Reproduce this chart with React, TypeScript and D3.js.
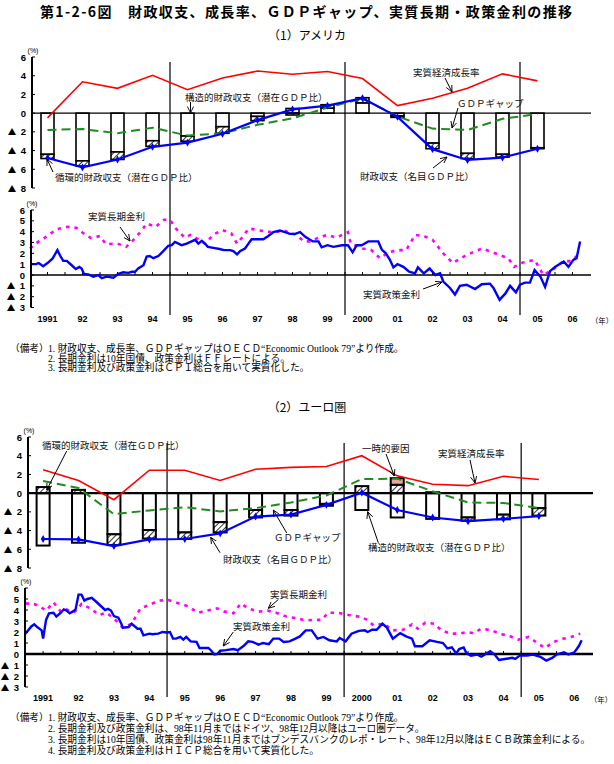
import * as d3 from 'd3'

// annual series (OECD Economic Outlook 79)
const years = [1991, 1992, 1993, 1994, 1995, 1996, 1997, 1998, 1999, 2000, 2001, 2002, 2003, 2004, 2005]
const yearLabels = ['1991', '92', '93', '94', '95', '96', '97', '98', '99', '2000', '01', '02', '03', '04', '05', '06']

const usGrowth = [-0.5, 3.35, 2.65, 4.05, 2.5, 3.75, 4.5, 4.15, 4.45, 3.7, 0.8, 1.6, 2.65, 4.2, 3.45]
const usGap = [-1.8, -1.7, -2.15, -1.55, -2.4, -2.15, -1.25, -0.55, 0.6, 1.55, -0.35, -1.65, -1.8, -0.6, -0.1]
const usBalance = [-4.8, -5.8, -4.95, -3.6, -3.15, -2.2, -0.75, 0.4, 0.8, 1.6, -0.4, -3.85, -5.0, -4.75, -3.8]
const usStructural = [-4.4, -5.1, -4.15, -2.95, -2.45, -1.45, -0.35, 0.5, 0.55, 1.1, -0.3, -3.2, -4.3, -4.4, -3.7]
const usCyclical = [-0.45, -0.55, -0.8, -0.6, -0.55, -0.7, -0.45, -0.2, 0.35, 0.55, -0.15, -0.6, -0.55, -0.3, -0.1]
const usOneOff = [0, 0, 0, 0, 0, 0, 0, 0, 0, 0, 0, 0, 0, 0, 0]

const euGrowth = [2.5, 1.35, -0.7, 2.45, 2.45, 1.35, 2.55, 2.75, 2.85, 4.0, 1.85, 0.95, 0.8, 1.8, 1.45]
const euGap = [1.3, 0.55, -2.25, -1.85, -1.5, -1.95, -1.6, -1.0, -0.25, 1.5, 1.55, 0.2, -1.0, -1.05, -1.6]
const euBalance = [-4.9, -4.95, -5.65, -4.95, -4.9, -4.3, -2.5, -2.3, -1.25, 0.05, -1.8, -2.6, -3.0, -2.75, -2.45]
const euStructural = [-5.6, -5.3, -4.4, -3.95, -4.2, -3.1, -1.8, -1.8, -1.15, -1.8, -2.6, -2.75, -2.6, -2.3, -1.6]
const euCyclical = [0.65, 0.35, -1.15, -0.9, -0.7, -1.1, -0.8, -0.6, -0.2, 0.75, 0.9, 0.1, -0.35, -0.5, -0.8]
const euOneOff = [0, 0, 0, 0, 0, 0, 0, 0, 0, 0, 0.7, 0, 0, 0, 0]

// monthly series: [months since Jan 1991, %]
type Pt = [number, number]

const usPolicy: Pt[] = [
  [0, 1.0], [2, 1.0], [3, 1.1], [4.5, 0.8], [6, 1.1], [7.7, 1.5], [9.4, 2.3], [10.3, 1.8], [11.4, 1.3], [12.6, 1.3],
  [14.3, 0.9], [15.7, 0.55], [16.9, 0.75], [17.7, 0.6], [18.5, 0.1], [20, 0.05], [21.7, -0.15], [23.4, 0], [24.6, -0.3],
  [26.3, -0.15], [28.6, -0.25], [30.3, 0.1], [32, 0.25], [33.7, 0.2], [34.9, 0.3], [36, 0.3], [37.1, 0.6], [38.9, 0.9],
  [40, 1.7], [41, 1.75], [42.3, 1.55], [44, 1.75], [45.7, 2.2], [47.4, 2.7], [48.6, 2.75], [49.7, 3.05], [50.9, 2.9],
  [52, 2.75], [53.7, 2.9], [55.4, 3.1], [56.6, 3.25], [57.7, 2.9], [58.9, 3.15], [60, 2.9], [61, 2.6], [62.9, 2.5],
  [65, 2.4], [66.5, 2.3], [68.6, 2.3], [69.7, 2.2], [71, 1.9], [72, 2.2], [73.7, 2.45], [74.9, 2.9], [76, 3.3],
  [77.7, 3.3], [80, 3.3], [81.7, 3.6], [83.4, 3.95], [85.7, 4.1], [87.4, 3.95], [89.1, 3.8], [90.9, 3.8], [92.6, 3.95],
  [94.5, 3.5], [97, 3.1], [98.9, 3.1], [100, 2.55], [102, 2.75], [104, 2.6], [107, 2.75], [109, 2.75], [110.6, 2.1],
  [112, 2.75], [113.7, 2.75], [116, 3.1], [119.4, 3.1], [120.6, 2.35], [122, 2.0], [123.4, 1.4], [124.6, 0.7], [126, 1.0],
  [128, 0.75], [130, 0.3], [132, 0.15], [133, 0.7], [135, 0.15], [137, 0.6], [139, 0.0], [140.6, 0.15], [141.7, -0.6],
  [144, -1.2], [145.7, -1.8], [147.4, -1.0], [149.7, -0.9], [152.6, -1.3], [154.9, -0.85], [157.7, -0.8], [158.9, -1.2],
  [161, -2.3], [163, -1.7], [164.6, -1.0], [166.6, -1.6], [168, -0.9], [169.7, -0.7], [171.4, -0.7], [173, 0.45],
  [175, -0.15], [176.6, -1.1], [178.3, 0.35], [180, 0.75], [183, 1.25], [184.6, 0.75], [186.3, 1.4], [187.4, 1.55], [188.6, 3.1],
]

const usLong: Pt[] = [
  [0, 2.45], [3, 3.1], [6, 3.6], [9, 4.2], [11, 4.35], [13, 4.45], [16, 4.35], [19, 3.7], [21, 3.4], [24, 3.6], [26, 2.85],
  [30, 2.9], [33, 2.6], [35, 3.1], [38, 4.0], [40, 4.75], [43, 4.45], [46, 5.1], [48, 5.1], [50, 4.3], [53, 3.45], [55, 3.7],
  [57, 3.4], [60, 2.9], [63, 3.75], [66, 4.15], [69, 3.85], [71, 2.9], [73, 3.55], [75, 4.3], [78, 4.15], [81, 4.0],
  [83, 3.95], [85, 4.0], [87, 4.15], [89, 3.85], [91, 3.75], [94, 3.1], [96, 3.1], [99, 3.45], [102, 3.7], [105, 3.45],
  [109, 3.95], [110, 2.9], [114, 2.45], [117, 2.3], [120, 1.55], [123, 2.1], [126, 2.3], [129, 2.3], [132, 3.7], [135, 3.6],
  [138, 3.25], [142, 1.9], [145, 1.1], [148, 1.6], [151, 2.0], [155, 2.45], [158, 2.15], [161, 1.85], [164, 1.55],
  [166, 0.75], [169, 1.15], [173, 1.4], [176, 0.0], [179, 0.45], [183, 1.3], [186, 1.25], [188, 2.0],
]

const euPolicy: Pt[] = [
  [0, 1.85], [2, 2.5], [3, 2.7], [4, 2.45], [5.5, 2.15], [6, 1.4], [7, 3.1], [8, 3.7], [9.5, 3.75], [10.5, 3.4], [12, 3.75],
  [13, 4.05], [14, 3.95], [15, 3.7], [16, 3.85], [17, 4.05], [18, 5.4], [19, 5.4], [20, 4.85], [21, 5.0], [22.5, 5.1],
  [24, 4.75], [26, 4.25], [27, 4.0], [28, 4.1], [29, 3.95], [30, 3.45], [31.5, 3.3], [32.5, 2.75], [33, 2.4], [35, 2.45],
  [36, 2.75], [38, 2.3], [39, 2.3], [40, 1.7], [42, 1.85], [43, 1.8], [45, 1.85], [46.5, 2.0], [48, 1.95], [49, 2.0],
  [50, 1.4], [51, 1.4], [52.5, 1.55], [53.5, 1.3], [54.5, 1.55], [56, 1.15], [58, 1.1], [59, 0.55], [62, 0.55], [63, 0.3],
  [64, -0.05], [65, 0], [66, 0.3], [68, 0.35], [70.5, 0.45], [72, 0.35], [74, 0.75], [75.5, 1.15], [77, 1.1], [79, 0.85],
  [80.5, 1.0], [82.5, 0.9], [84, 1.4], [86, 1.4], [87.5, 1.1], [89.5, 1.15], [91.5, 1.4], [93, 1.6], [95, 2.15], [97, 2.15],
  [99, 1.4], [101, 1.55], [103, 1.25], [105.5, 1.15], [106.5, 1.45], [108.5, 1.15], [110.5, 1.85], [113, 2.1], [115, 2.15],
  [116, 2.0], [117.5, 2.2], [119, 2.2], [121, 2.75], [122.5, 2.4], [124.5, 1.4], [127, 1.9], [129, 1.6], [131, 1.4],
  [132, 0.7], [134.5, 0.7], [137, 1.25], [139.5, 1.1], [141.5, 1.0], [143, 0.5], [144.5, 0.6], [146, 0.05], [147, 0.45],
  [148.5, 0.6], [149.5, 0.05], [151, -0.15], [153, -0.05], [154.5, -0.25], [157.5, 0.25], [159, -0.05], [160.5, -0.55],
  [162.5, -0.45], [165, -0.35], [166, -0.45], [167.5, -0.15], [170, -0.15], [172, -0.05], [174.5, -0.25], [176.5, -0.6],
  [178.5, -0.35], [180, -0.05], [182.5, 0.15], [184, -0.05], [186, 0.15], [187.5, 0.7], [188.5, 1.25],
]

const euLong: Pt[] = [
  [0, 4.6], [3, 4.55], [5, 4.3], [7, 3.95], [9.5, 4.7], [12, 3.85], [14, 4.05], [16, 3.75], [17.5, 4.0], [19, 4.55],
  [22, 4.15], [25, 3.55], [27.5, 3.75], [30.5, 3.1], [33, 2.4], [36, 2.75], [39, 4.15], [42, 4.45], [45, 4.85], [48.5, 4.9],
  [52, 4.6], [55, 4.35], [58.5, 3.75], [61.5, 3.95], [65, 4.15], [67.5, 3.85], [70.5, 3.7], [73, 4.6], [75.5, 4.15],
  [79, 3.85], [82, 3.95], [85, 3.75], [88.5, 3.4], [92, 3.25], [95, 3.05], [97.5, 3.1], [100.5, 3.1], [102.5, 3.75],
  [106, 3.75], [109.5, 3.55], [113, 3.4], [115.5, 3.15], [118, 2.6], [121.5, 2.75], [124.5, 2.15], [128, 2.2], [131, 2.7],
  [133, 2.3], [135.5, 2.85], [138.5, 2.75], [141, 2.15], [144, 1.85], [147, 1.85], [149.5, 2.0], [152, 1.9], [154.5, 2.3],
  [158, 2.15], [161, 1.8], [163.5, 1.7], [167, 1.3], [170.5, 1.55], [173.5, 1.0], [176, 0.55], [179, 1.1], [182.5, 1.4],
  [185, 1.55], [188, 1.85],
]

const upperTicks = [6, 4, 2, 0, -2, -4, -6, -8]
const lowerTicks = [6, 5, 4, 3, 2, 1, 0, -1, -2, -3]

const usNotes = [
  '1.  財政収支、成長率、ＧＤＰギャップはＯＥＣＤ“Economic Outlook 79”より作成。',
  '2.  長期金利は10年国債、政策金利はＦＦレートによる。',
  '3.  長期金利及び政策金利はＣＰＩ総合を用いて実質化した。',
]
const euNotes = [
  '1.  財政収支、成長率、ＧＤＰギャップはＯＥＣＤ“Economic Outlook 79”より作成。',
  '2.  長期金利及び政策金利は、98年11月まではドイツ、98年12月以降はユーロ圏データ。',
  '3.  長期金利は10年国債、政策金利は98年11月まではブンデスバンクのレポ・レート、98年12月以降はＥＣＢ政策金利による。',
  '4.  長期金利及び政策金利はＨＩＣＰ総合を用いて実質化した。',
]

const JP = '"Noto Sans CJK JP", sans-serif'
const NUM = 'Arial, "Liberation Sans", sans-serif'
const NOTE = '"Liberation Serif", "Noto Sans CJK JP", serif'

type Label = { text: string; x: number; y: number; a: [number, number, number, number] }

function Chart({ cfg, d }: any) {
  const x = d3.scaleLinear().domain([1991, 2007]).range(cfg.xRange)
  const xm = (m: number) => x(1991 + m / 12)
  const cx = (yr: number) => x(yr + 0.5)
  const yU = d3.scaleLinear().domain([-8, 6]).range(cfg.upperRange)
  const yL = d3.scaleLinear().domain([-3, 6]).range(cfg.lowerRange)
  const annual = d3.line<number>().x((_, i) => cx(years[i])).y((v) => yU(v))
  const monthly = d3.line<Pt>().x((p) => xm(p[0])).y((p) => yL(p[1]))
  const bw = 13
  const right = x(2007) + 1
  const diamond = d3.symbol(d3.symbolDiamond, 18)()

  const bars = years.map((yr, i) => {
    let pos = 0
    let neg = 0
    const parts = [
      { v: d.structural[i], fill: 'white' },
      { v: d.cyclical[i], fill: 'url(#hatch)' },
      { v: d.oneOff[i], fill: '#f4a29c' },
    ]
    return parts
      .filter((p) => p.v !== 0)
      .map((p) => {
        let a, b
        if (p.v > 0) { a = pos; b = pos + p.v; pos = b } else { a = neg; b = neg + p.v; neg = b }
        return { x: cx(yr) - bw / 2, y: yU(Math.max(a, b)), h: Math.abs(yU(a) - yU(b)), fill: p.fill }
      })
  })

  const yAxis = (scale: any, ticks: number[], ax: number, top: number, bottom: number) => (
    <g>
      <line x1={ax} x2={ax} y1={top} y2={bottom} stroke="black" strokeWidth={2} />
      {ticks.map((t) => (
        <g key={t}>
          <line x1={ax} x2={ax + 3} y1={scale(t)} y2={scale(t)} stroke="black" strokeWidth={1} />
          <text x={ax - 6} y={scale(t) + 3.5} textAnchor="end" fontFamily={NUM} fontWeight="bold" fontSize={9.5}>
            {Math.abs(t)}
          </text>
          {t < 0 && (
            <text x={ax - 20} y={scale(t) + 3.5} textAnchor="middle" fontFamily={JP} fontSize={8.5}>▲</text>
          )}
        </g>
      ))}
    </g>
  )

  return (
    <g>
      <text x={307} y={cfg.subY} textAnchor="middle" fontFamily={JP} fontSize={12}>{cfg.subtitle}</text>

      {/* separators */}
      {[1995, 2000, 2005].map((yr) => (
        <line key={yr} x1={x(yr)} x2={x(yr)} y1={cfg.sepTop} y2={cfg.sepBottom} stroke="black" strokeWidth={1.2} />
      ))}

      {/* upper chart */}
      {bars.map((segs, i) =>
        segs.map((s, j) => (
          <rect key={i + '-' + j} x={s.x} y={s.y} width={bw} height={s.h} fill={s.fill} stroke="black" strokeWidth={cfg.barStroke} />
        ))
      )}
      <line x1={cfg.upperAxisX} x2={right} y1={yU(0)} y2={yU(0)} stroke="black" strokeWidth={cfg.zeroUpper} />
      <path d={annual(d.growth) ?? ''} fill="none" stroke="#ff0000" strokeWidth={1.6} />
      <path d={annual(d.gap) ?? ''} fill="none" stroke="#1e8c1e" strokeWidth={2} strokeDasharray="9,5" />
      <path d={annual(d.balance) ?? ''} fill="none" stroke="#0000ff" strokeWidth={2.2} />
      {d.balance.map((v: number, i: number) => (
        <path key={i} d={diamond ?? ''} transform={`translate(${cx(years[i])},${yU(v)})`} fill="#0000ff" />
      ))}
      {yAxis(yU, upperTicks, cfg.upperAxisX, yU(6), yU(-8))}
      <text x={cfg.upperAxisX + 1} y={yU(6) - 4} textAnchor="middle" fontFamily={NUM} fontSize={7}>(%)</text>

      {/* lower chart */}
      <line x1={cfg.lowerAxisX} x2={right} y1={yL(0)} y2={yL(0)} stroke="black" strokeWidth={cfg.zeroLower} />
      {d3.range(6, 192, 6).map((m) => (
        <line key={m} x1={xm(m)} x2={xm(m)} y1={yL(0)} y2={yL(0) - 3} stroke="black" strokeWidth={1} />
      ))}
      <path d={monthly(d.long) ?? ''} fill="none" stroke="#ff00ff" strokeWidth={2.6} strokeDasharray="3.5,5" />
      <path d={monthly(d.policy) ?? ''} fill="none" stroke="#0000ff" strokeWidth={2.4} />
      {yAxis(yL, lowerTicks, cfg.lowerAxisX, yL(6), yL(-3))}
      <text x={cfg.lowerAxisX + 1} y={yL(6) - 4} textAnchor="middle" fontFamily={NUM} fontSize={7}>(%)</text>
      {yearLabels.map((lab, i) => (
        <text key={lab} x={cx(1991 + i)} y={cfg.yearY} textAnchor="middle" fontFamily={NUM} fontWeight="bold" fontSize={9}>
          {lab}
        </text>
      ))}
      <text x={cfg.nenX} y={cfg.yearY + 2} textAnchor="middle" fontFamily={JP} fontSize={7.5}>（年）</text>

      {/* annotations */}
      {cfg.labels.map((l: Label) => (
        <g key={l.text}>
          <text x={l.x} y={l.y} fontFamily={JP} fontSize={9.5} fill="#111">{l.text}</text>
          <line x1={l.a[0]} y1={l.a[1]} x2={l.a[2]} y2={l.a[3]} stroke="black" strokeWidth={1} markerEnd="url(#arrow)" />
        </g>
      ))}

      {/* notes */}
      <text x={10} y={cfg.noteY} fontFamily={NOTE} fontSize={9.7}>（備考）</text>
      {cfg.notes.map((n: string, i: number) => (
        <text key={i} x={48} y={cfg.noteY + i * cfg.noteGap} fontFamily={NOTE} fontSize={9.7}>{n}</text>
      ))}
    </g>
  )
}

const usCfg = {
  subtitle: '（1）アメリカ',
  subY: 40,
  xRange: [30, 590],
  upperRange: [188, 57],
  lowerRange: [307.5, 210],
  upperAxisX: 32,
  lowerAxisX: 31,
  sepTop: 62,
  sepBottom: 315,
  barStroke: 1.6,
  zeroUpper: 1.4,
  zeroLower: 1.4,
  yearY: 321.5,
  nenX: 602,
  noteY: 352,
  noteGap: 9.7,
  notes: usNotes,
  labels: [
    { text: '構造的財政収支（潜在ＧＤＰ比）', x: 185, y: 100.5, a: [190.5, 102, 190.5, 113] },
    { text: '循環的財政収支（潜在ＧＤＰ比）', x: 55, y: 180.5, a: [53, 172, 47, 159] },
    { text: '実質経済成長率', x: 413, y: 75.5, a: [445, 78, 452, 92] },
    { text: 'ＧＤＰギャップ', x: 457, y: 106.5, a: [458, 108, 452, 128] },
    { text: '財政収支（名目ＧＤＰ比）', x: 360, y: 179.5, a: [433, 168, 447, 157] },
    { text: '実質長期金利', x: 88, y: 219.5, a: [120, 227, 130, 241] },
    { text: '実質政策金利', x: 363, y: 297.5, a: [423, 289, 442, 282] },
  ],
}

const euCfg = {
  subtitle: '（2）ユーロ圏',
  subY: 412,
  xRange: [25.4, 592],
  upperRange: [568, 437],
  lowerRange: [687, 588],
  upperAxisX: 28,
  lowerAxisX: 25,
  sepTop: 443,
  sepBottom: 697,
  barStroke: 2,
  zeroUpper: 2.2,
  zeroLower: 2.6,
  yearY: 700.5,
  nenX: 601,
  noteY: 721,
  noteGap: 11,
  notes: euNotes,
  labels: [
    { text: '循環的財政収支（潜在ＧＤＰ比）', x: 42, y: 449, a: [66.7, 451, 46.7, 490] },
    { text: '一時的要因', x: 362, y: 451.5, a: [386, 454, 394.3, 476] },
    { text: '実質経済成長率', x: 438, y: 457, a: [470, 460, 475, 483] },
    { text: 'ＧＤＰギャップ', x: 274, y: 540.5, a: [286.7, 533, 273.3, 510] },
    { text: '財政収支（名目ＧＤＰ比）', x: 223, y: 562.5, a: [220, 552.7, 210.7, 537.3] },
    { text: '構造的財政収支（潜在ＧＤＰ比）', x: 368, y: 550.5, a: [378.3, 542.7, 367.7, 511.7] },
    { text: '実質長期金利', x: 270, y: 597.5, a: [278.3, 599.5, 268.3, 608.3] },
    { text: '実質政策金利', x: 233, y: 630, a: [233.3, 632, 223.3, 646] },
  ],
}

export default function App() {
  return (
    <svg width={614} height={764} style={{ position: 'absolute', left: 0, top: 0, background: 'white' }}>
      <defs>
        <pattern id="hatch" width={4} height={4} patternUnits="userSpaceOnUse" patternTransform="rotate(45)">
          <rect width={4} height={4} fill="white" />
          <line x1={0} y1={0} x2={0} y2={4} stroke="black" strokeWidth={1.6} />
        </pattern>
        <marker id="arrow" viewBox="0 0 8 8" refX={7.5} refY={4} markerWidth={7} markerHeight={7} orient="auto" markerUnits="userSpaceOnUse">
          <path d="M0,0.5 L7.5,4 L0,7.5" fill="none" stroke="black" strokeWidth={1} />
        </marker>
      </defs>
      <rect width={614} height={764} fill="white" />
      <text x={306} y={17} textAnchor="middle" fontFamily={JP} fontWeight="bold" fontSize={14} textLength={532} lengthAdjust="spacing">
        第1-2-6図　財政収支、成長率、ＧＤＰギャップ、実質長期・政策金利の推移
      </text>
      <Chart
        cfg={usCfg}
        d={{ growth: usGrowth, gap: usGap, balance: usBalance, structural: usStructural, cyclical: usCyclical, oneOff: usOneOff, policy: usPolicy, long: usLong }}
      />
      <Chart
        cfg={euCfg}
        d={{ growth: euGrowth, gap: euGap, balance: euBalance, structural: euStructural, cyclical: euCyclical, oneOff: euOneOff, policy: euPolicy, long: euLong }}
      />
    </svg>
  )
}
